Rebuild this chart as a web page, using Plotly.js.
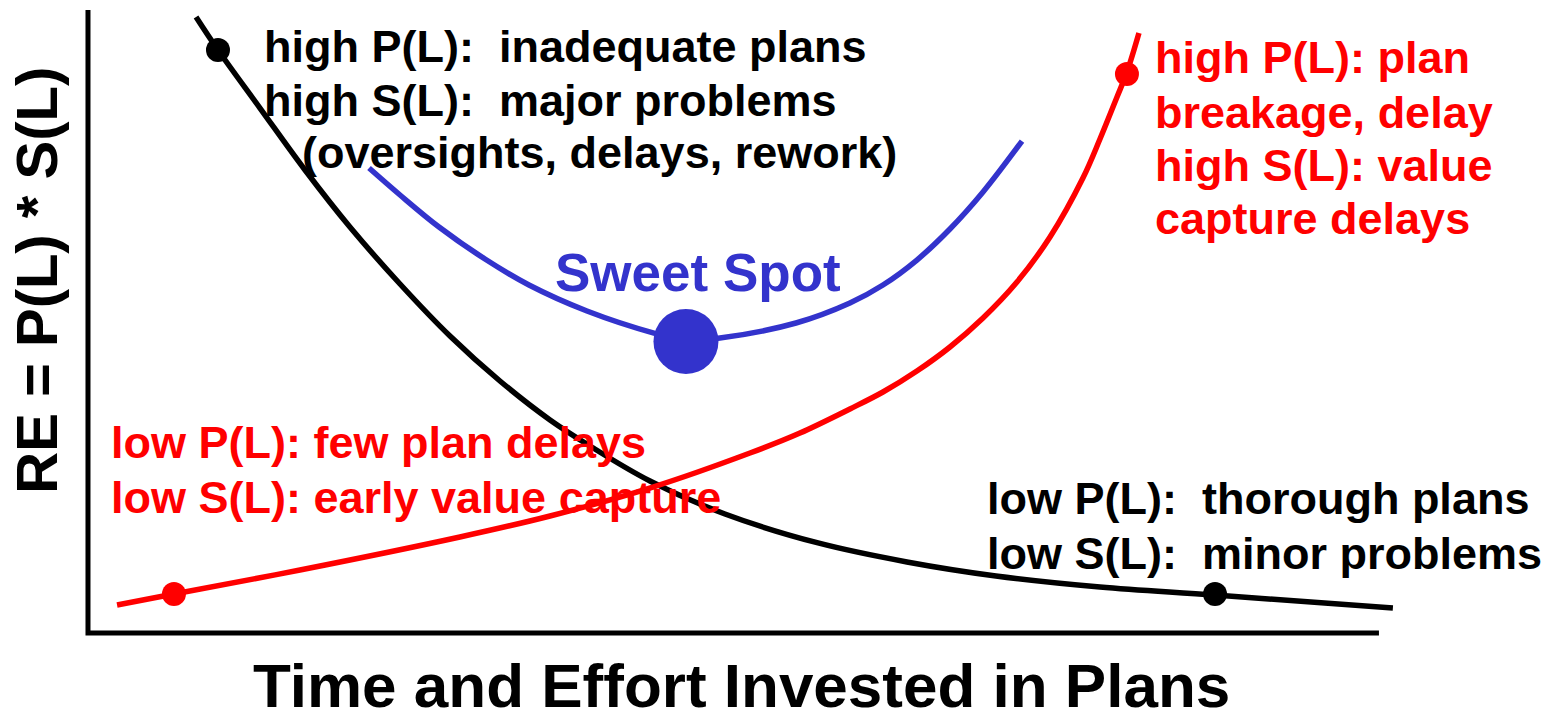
<!DOCTYPE html>
<html>
<head>
<meta charset="utf-8">
<script src="https://cdn.plot.ly/plotly-3.0.1.min.js"></script>
<style>html,body{margin:0;padding:0;background:#fff;}#chart{width:1550px;height:722px;}</style>
</head>
<body>
<div id="chart"></div>
<script>
// Abstract scale: 0..100 on both axes (axis box)
const blackX = [8.37, 10.07, 13.32, 16.81, 20.29, 24.17, 28.04, 31.91, 35.79, 38.88, 43.53, 49.34, 56.55, 63.44, 70.33, 78.39, 87.30, 101.08];
const blackY = [98.88, 93.58, 84.27, 74.32, 65.17, 56.02, 47.67, 40.45, 34.19, 30.02, 24.40, 19.10, 14.45, 11.40, 9.15, 7.38, 6.10, 4.01];
const blackDotX = [10.07, 87.30];
const blackDotY = [93.58, 6.26];

const redX = [2.25, 6.66, 16.42, 28.81, 35.79, 43.76, 51.28, 55.15, 59.02, 61.58, 64.21, 66.77, 69.33, 71.96, 74.52, 77.07, 78.39, 79.71, 80.48, 81.41];
const redY = [4.49, 6.26, 10.11, 15.41, 18.78, 23.43, 28.89, 32.10, 35.96, 38.68, 42.05, 45.91, 50.56, 56.34, 63.56, 73.03, 79.29, 86.04, 90.05, 96.31];
const redDotX = [6.66, 80.48];
const redDotY = [6.26, 89.73];

const blueX = [21.77, 24.17, 27.19, 30.75, 34.16, 38.65, 43.84, 46.32, 48.95, 54.84, 59.02, 61.58, 64.21, 66.77, 69.33, 72.35];
const blueY = [74.64, 70.31, 65.17, 60.03, 55.86, 51.69, 48.15, 47.03, 47.35, 49.76, 52.97, 55.86, 59.87, 64.85, 70.79, 78.97];
const sweetSpotX = [46.32];
const sweetSpotY = [46.80];

const xTitle = "Time and Effort Invested in Plans";
const yTitle = "RE = P(L) * S(L)";
const NB = "\u00a0";
const blackTopLines = ["high P(L):" + NB + " inadequate plans", "high S(L):" + NB + " major problems", "(oversights, delays, rework)"];
const redTopLines = ["high P(L): plan", "breakage, delay", "high S(L): value", "capture delays"];
const redBottomLines = ["low P(L): few plan delays", "low S(L): early value capture"];
const blackBottomLines = ["low P(L):" + NB + " thorough plans", "low S(L):" + NB + " minor problems"];
const sweetLabel = "Sweet Spot";

const FAM = '"Liberation Sans", Arial, sans-serif';
const RED = '#ff0000', BLUE = '#3333cc', BLACK = '#000000';
const LW = 5.5;

const traces = [
  {x: blackX, y: blackY, mode: 'lines', line: {color: BLACK, width: LW, shape: 'spline', smoothing: 1}},
  {x: redX, y: redY, mode: 'lines', line: {color: RED, width: LW, shape: 'spline', smoothing: 1}},
  {x: blueX, y: blueY, mode: 'lines', line: {color: BLUE, width: LW, shape: 'spline', smoothing: 1}},
  {x: blackDotX, y: blackDotY, mode: 'markers', marker: {color: BLACK, size: 24}},
  {x: redDotX, y: redDotY, mode: 'markers', marker: {color: RED, size: 24}},
  {x: sweetSpotX, y: sweetSpotY, mode: 'markers', marker: {color: BLUE, size: 65}}
];

function ann(text, x, y, color, size, xanchor, extra) {
  return Object.assign({text: text, x: x, y: y, xref: 'x', yref: 'y', showarrow: false,
    xanchor: xanchor, yanchor: 'middle', font: {family: FAM, size: size, color: color, weight: 'bold'}}, extra || {});
}

const blackTopX = [13.48, 13.48, 16.42], blackTopY = [94.22, 85.55, 77.21];
const redTopY = [92.46, 83.63, 75.12, 66.61];
const redBottomY = [30.50, 21.67];
const blackBottomY = [21.51, 12.68];

const annotations = [];
blackTopLines.forEach((t, i) => annotations.push(ann(t, blackTopX[i], blackTopY[i], BLACK, 45, 'left')));
redTopLines.forEach((t, i) => annotations.push(ann(t, 82.47, redTopY[i], RED, 45, 'left')));
redBottomLines.forEach((t, i) => annotations.push(ann(t, 1.63, redBottomY[i], RED, 45, 'left')));
blackBottomLines.forEach((t, i) => annotations.push(ann(t, 69.48, blackBottomY[i], BLACK, 45, 'left')));
annotations.push(ann(sweetLabel, 47.25, 57.9, BLUE, 53, 'center'));
annotations.push(ann(xTitle, 50.66, -8.40, BLACK, 62, 'center'));
annotations.push(ann(yTitle, -4.05, 56.66, BLACK, 58, 'center', {textangle: -90}));

const layout = {
  width: 1550, height: 722,
  margin: {l: 0, r: 0, t: 0, b: 0, pad: 0},
  paper_bgcolor: '#ffffff', plot_bgcolor: '#ffffff',
  showlegend: false, hovermode: false,
  xaxis: {range: [-6.816, 113.25], showgrid: false, zeroline: false, showticklabels: false, ticks: '', showline: false, fixedrange: true},
  yaxis: {range: [-14.29, 101.61], showgrid: false, zeroline: false, showticklabels: false, ticks: '', showline: false, fixedrange: true},
  shapes: [{type: 'path', xref: 'x', yref: 'y', path: 'M 0,100 L 0,0 L 100,0', line: {color: BLACK, width: 5}, fillcolor: 'rgba(0,0,0,0)'}],
  annotations: annotations
};

Plotly.newPlot('chart', traces, layout, {staticPlot: true, displayModeBar: false});
</script>
</body>
</html>
